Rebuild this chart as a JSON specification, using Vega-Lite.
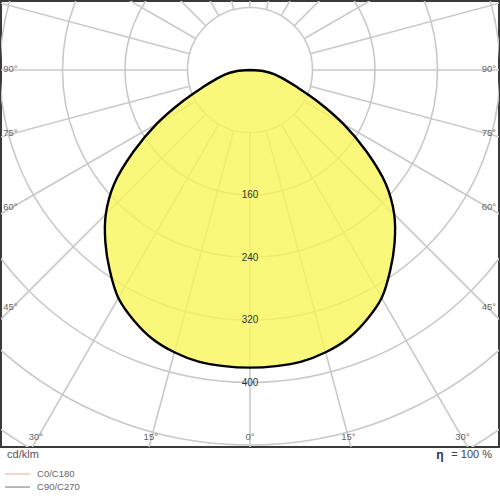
{
  "$schema": "https://vega.github.io/schema/vega-lite/v6.json",
  "description": "Polar light distribution curve (cd/klm) of a downlight.",
  "width": 498,
  "height": 446,
  "autosize": "none",
  "padding": {"left": 1, "top": 1, "right": 1, "bottom": 53},
  "config": {
    "view": {"stroke": "#3a3a3a", "strokeWidth": 2},
    "axis": {"disable": true},
    "text": {"font": "Liberation Sans"}
  },
  "datasets": {
    "curve": [
      {"g": -90, "cd": 0}, {"g": -85, "cd": 18}, {"g": -80, "cd": 32}, {"g": -75, "cd": 45},
      {"g": -70, "cd": 64}, {"g": -65, "cd": 96}, {"g": -60, "cd": 138}, {"g": -55, "cd": 182},
      {"g": -50, "cd": 227}, {"g": -45, "cd": 261}, {"g": -40, "cd": 288}, {"g": -35, "cd": 313},
      {"g": -30, "cd": 337}, {"g": -25, "cd": 353}, {"g": -20, "cd": 366}, {"g": -15, "cd": 374},
      {"g": -10, "cd": 379}, {"g": -5, "cd": 380.5}, {"g": 0, "cd": 381},
      {"g": 5, "cd": 380.5}, {"g": 10, "cd": 379}, {"g": 15, "cd": 374}, {"g": 20, "cd": 366},
      {"g": 25, "cd": 353}, {"g": 30, "cd": 337}, {"g": 35, "cd": 313}, {"g": 40, "cd": 288},
      {"g": 45, "cd": 261}, {"g": 50, "cd": 227}, {"g": 55, "cd": 182}, {"g": 60, "cd": 138},
      {"g": 65, "cd": 96}, {"g": 70, "cd": 64}, {"g": 75, "cd": 45}, {"g": 80, "cd": 32},
      {"g": 85, "cd": 18}, {"g": 90, "cd": 0}
    ],
    "circles": [
      {"cd": 80}, {"cd": 160}, {"cd": 240}, {"cd": 320}, {"cd": 400}, {"cd": 480}, {"cd": 560}
    ],
    "spokes": [
      {"g": -165}, {"g": -150}, {"g": -135}, {"g": -120}, {"g": -105}, {"g": -90},
      {"g": -75}, {"g": -60}, {"g": -45}, {"g": -30}, {"g": -15}, {"g": 0},
      {"g": 15}, {"g": 30}, {"g": 45}, {"g": 60}, {"g": 75}, {"g": 90},
      {"g": 105}, {"g": 120}, {"g": 135}, {"g": 150}, {"g": 165}, {"g": 180}
    ]
  },
  "layer": [
    {
      "data": {"name": "circles"},
      "mark": {"type": "arc", "filled": false, "stroke": "#c9c9c9", "strokeWidth": 1.6, "theta": 0, "theta2": 6.2832, "clip": true},
      "encoding": {
        "x": {"datum": 0, "type": "quantitative", "scale": {"domain": [-318.72, 318.72], "nice": false, "zero": false}},
        "y": {"datum": 0, "type": "quantitative", "scale": {"domain": [-88.32, 482.56], "nice": false, "zero": false, "reverse": true}},
        "radius": {"field": "cd", "type": "quantitative", "stack": null, "scale": {"type": "linear", "domain": [0, 640], "range": [0, 500], "zero": true}}
      }
    },
    {
      "data": {"name": "spokes"},
      "transform": [
        {"calculate": "80 * sin(datum.g * PI / 180)", "as": "xa"},
        {"calculate": "80 * cos(datum.g * PI / 180)", "as": "ya"},
        {"calculate": "800 * sin(datum.g * PI / 180)", "as": "xb"},
        {"calculate": "800 * cos(datum.g * PI / 180)", "as": "yb"}
      ],
      "mark": {"type": "rule", "stroke": "#c9c9c9", "strokeWidth": 1.6, "clip": true},
      "encoding": {
        "x": {"field": "xa", "type": "quantitative"},
        "y": {"field": "ya", "type": "quantitative"},
        "x2": {"field": "xb"},
        "y2": {"field": "yb"}
      }
    },
    {
      "data": {"name": "curve"},
      "transform": [
        {"calculate": "datum.cd * sin(datum.g * PI / 180)", "as": "px"},
        {"calculate": "datum.cd * cos(datum.g * PI / 180)", "as": "py"}
      ],
      "mark": {"type": "line", "fill": "#f9f659", "fillOpacity": 0.8, "stroke": "#000000", "strokeWidth": 2.4, "interpolate": "catmull-rom"},
      "encoding": {
        "x": {"field": "px", "type": "quantitative"},
        "y": {"field": "py", "type": "quantitative"},
        "order": {"field": "g", "type": "quantitative"}
      }
    },
    {
      "data": {"values": [{"cd": 160}, {"cd": 240}, {"cd": 320}, {"cd": 400}]},
      "mark": {"type": "text", "fontSize": 10, "color": "#333333", "baseline": "middle"},
      "encoding": {
        "x": {"datum": 0, "type": "quantitative"},
        "y": {"field": "cd", "type": "quantitative"},
        "text": {"field": "cd", "type": "nominal"}
      }
    },
    {
      "data": {"values": [
        {"x": -316, "y": -1.3, "t": "90°"},
        {"x": -316, "y": 80.3, "t": "75°"},
        {"x": -316, "y": 175.4, "t": "60°"},
        {"x": -316, "y": 303.4, "t": "45°"}
      ]},
      "mark": {"type": "text", "fontSize": 9.5, "color": "#666666", "align": "left", "baseline": "middle"},
      "encoding": {
        "x": {"field": "x", "type": "quantitative"},
        "y": {"field": "y", "type": "quantitative"},
        "text": {"field": "t"}
      }
    },
    {
      "data": {"values": [
        {"x": 315, "y": -1.3, "t": "90°"},
        {"x": 315, "y": 80.3, "t": "75°"},
        {"x": 315, "y": 175.4, "t": "60°"},
        {"x": 315, "y": 303.4, "t": "45°"}
      ]},
      "mark": {"type": "text", "fontSize": 9.5, "color": "#666666", "align": "right", "baseline": "middle"},
      "encoding": {
        "x": {"field": "x", "type": "quantitative"},
        "y": {"field": "y", "type": "quantitative"},
        "text": {"field": "t"}
      }
    },
    {
      "data": {"values": [
        {"x": -274, "y": 469.4, "t": "30°"},
        {"x": -127, "y": 469.4, "t": "15°"},
        {"x": 0, "y": 469.4, "t": "0°"},
        {"x": 126, "y": 469.4, "t": "15°"},
        {"x": 272, "y": 469.4, "t": "30°"}
      ]},
      "mark": {"type": "text", "fontSize": 9.5, "color": "#666666", "align": "center", "baseline": "middle"},
      "encoding": {
        "x": {"field": "x", "type": "quantitative"},
        "y": {"field": "y", "type": "quantitative"},
        "text": {"field": "t"}
      }
    },
    {
      "data": {"values": [{"x": -311, "y": 492.8, "t": "cd/klm"}]},
      "mark": {"type": "text", "fontSize": 11, "color": "#555555", "align": "left", "baseline": "middle"},
      "encoding": {
        "x": {"field": "x", "type": "quantitative"},
        "y": {"field": "y", "type": "quantitative"},
        "text": {"field": "t"}
      }
    },
    {
      "data": {"values": [
        {"x": -272.6, "y": 517.1, "t": "C0/C180"},
        {"x": -272.6, "y": 533.8, "t": "C90/C270"}
      ]},
      "mark": {"type": "text", "fontSize": 9.5, "color": "#666666", "align": "left", "baseline": "middle"},
      "encoding": {
        "x": {"field": "x", "type": "quantitative"},
        "y": {"field": "y", "type": "quantitative"},
        "text": {"field": "t"}
      }
    },
    {
      "data": {"values": [{"x": 243, "y": 492.8, "t": "η"}]},
      "mark": {"type": "text", "fontSize": 12, "fontWeight": "bold", "color": "#333333", "align": "center", "baseline": "middle"},
      "encoding": {
        "x": {"field": "x", "type": "quantitative"},
        "y": {"field": "y", "type": "quantitative"},
        "text": {"field": "t"}
      }
    },
    {
      "data": {"values": [{"x": 309.8, "y": 492.8, "t": "= 100 %"}]},
      "mark": {"type": "text", "fontSize": 11, "color": "#444444", "align": "right", "baseline": "middle"},
      "encoding": {
        "x": {"field": "x", "type": "quantitative"},
        "y": {"field": "y", "type": "quantitative"},
        "text": {"field": "t"}
      }
    },
    {
      "data": {"values": [
        {"plane": "C0/C180", "xa": -313.6, "xb": -281.6, "y": 517.1},
        {"plane": "C90/C270", "xa": -313.6, "xb": -281.6, "y": 533.8}
      ]},
      "mark": {"type": "rule", "strokeWidth": 1.2},
      "encoding": {
        "x": {"field": "xa", "type": "quantitative"},
        "x2": {"field": "xb"},
        "y": {"field": "y", "type": "quantitative"},
        "color": {"field": "plane", "type": "nominal", "legend": null, "scale": {"domain": ["C0/C180", "C90/C270"], "range": ["#f4b5a6", "#8c8c8c"]}}
      }
    }
  ]
}
